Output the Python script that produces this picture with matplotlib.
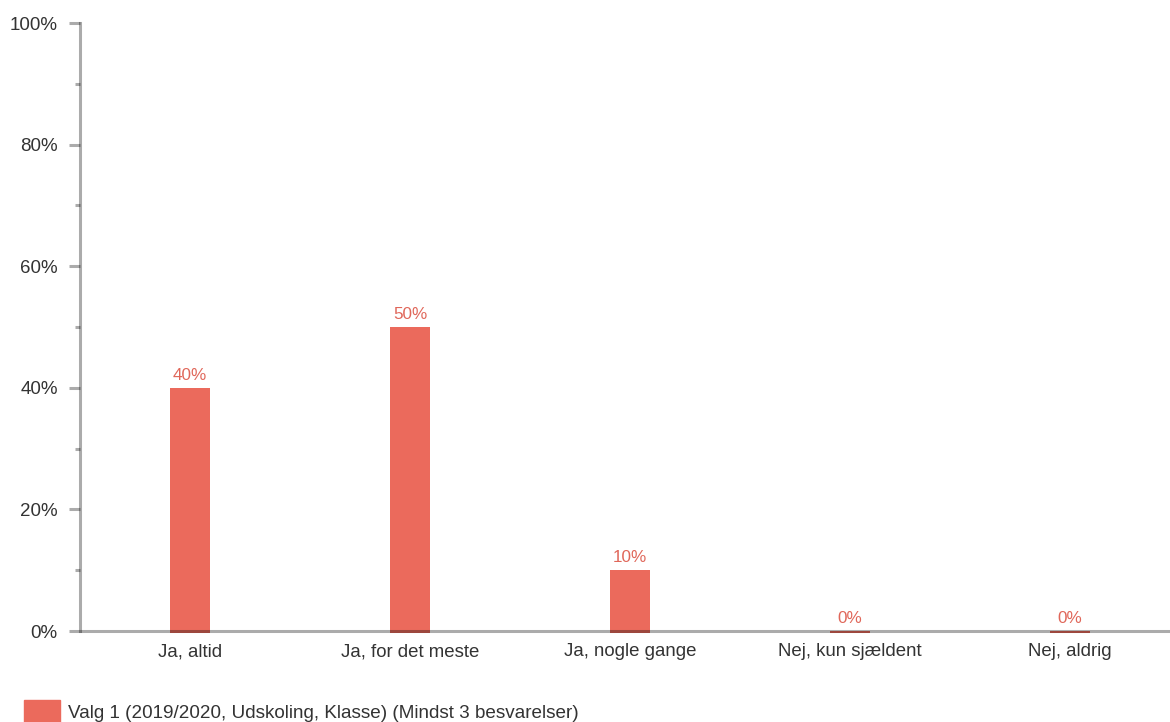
import matplotlib
matplotlib.use("Agg")
import matplotlib.pyplot as plt
from matplotlib.ticker import MultipleLocator, FuncFormatter
from matplotlib.patches import Patch

categories = ["Ja, altid", "Ja, for det meste", "Ja, nogle gange", "Nej, kun sjældent", "Nej, aldrig"]
values = [40, 50, 10, 0, 0]
labels = ["40%", "50%", "10%", "0%", "0%"]
series_name = "Valg 1 (2019/2020, Udskoling, Klasse) (Mindst 3 besvarelser)"

plt.rcParams['font.family'] = ['Liberation Sans', 'DejaVu Sans']

BAR = "#EB6A5C"
LABEL = "#E0675A"
TEXT = "#333333"
AXIS = (0, 0, 0, 0.33)

fig = plt.figure(figsize=(11.7, 7.22), dpi=100)
ax = fig.add_axes([80/1170, 1 - 631/722, 1 - 80/1170, (631 - 23)/722])

x = list(range(len(categories)))
bars = ax.bar(x, [v + 0.3 for v in values], bottom=-0.3, width=0.178, color=BAR,
              zorder=2, clip_on=False)
for xi, v, lab in zip(x, values, labels):
    ax.annotate(lab, (xi, v), xytext=(0, 3.5), textcoords="offset points",
                ha="center", va="bottom", fontsize=12.3, color=LABEL)

ax.set_xlim(-0.5, (1170 - 190) / 220)
ax.set_ylim(0, 100)
ax.yaxis.set_major_locator(MultipleLocator(20))
ax.yaxis.set_minor_locator(MultipleLocator(10))
ax.yaxis.set_major_formatter(FuncFormatter(lambda v, p: f"{int(v)}%"))
ax.set_xticks(x)
ax.set_xticklabels(categories)

for s in ["top", "right"]:
    ax.spines[s].set_visible(False)
for s in ["left", "bottom"]:
    ax.spines[s].set_color(AXIS)
    ax.spines[s].set_linewidth(2.2)
    ax.spines[s].set_zorder(3)
ax.spines["bottom"].set_capstyle("butt")

ax.tick_params(axis="y", which="major", length=8, width=2.2, color=AXIS, pad=8,
               labelsize=13.5, labelcolor=TEXT)
ax.tick_params(axis="y", which="minor", length=3.5, width=2.2, color=AXIS)
ax.tick_params(axis="x", length=0, pad=9, labelsize=13.4, labelcolor=TEXT)

leg = fig.legend(handles=[Patch(color=BAR, label=series_name)], loc="center left",
                 bbox_to_anchor=(24/1170, 1 - 712/722), frameon=False, fontsize=13.6,
                 borderpad=0, borderaxespad=0,
                 handlelength=1.92, handleheight=1.5, handletextpad=0.43, labelcolor=TEXT)

fig.savefig("out.png", dpi=100)
